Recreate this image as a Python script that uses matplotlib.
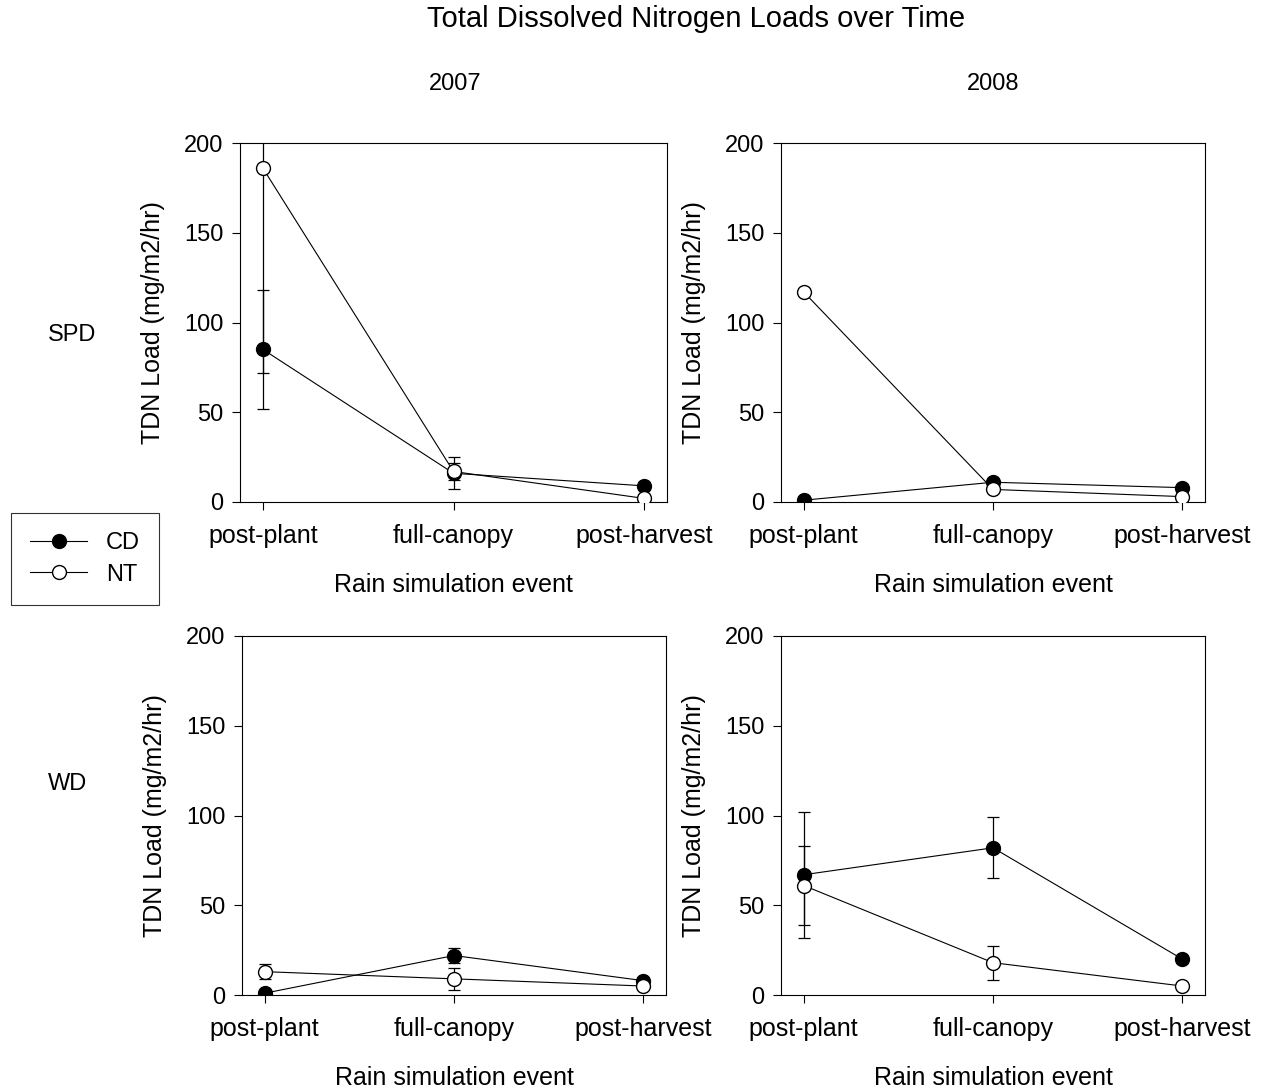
import matplotlib
matplotlib.use("Agg")
from matplotlib import pyplot as plt
from matplotlib.lines import Line2D

plt.rcParams['font.family'] = ['Liberation Sans', 'DejaVu Sans']

# rain simulation events
events = ["post-plant", "full-canopy", "post-harvest"]
years = ["2007", "2008"]
sites = ["SPD", "WD"]

# CD means / errors per panel (site, year)
cd_spd_2007 = [85, 16, 9]
cd_spd_2007_err = [33, 9, 2]
nt_spd_2007 = [186, 17, 2]
nt_spd_2007_err = [114, 5, 1]

cd_spd_2008 = [1, 11, 8]
cd_spd_2008_err = [1, 2, 1]
nt_spd_2008 = [117, 7, 3]
nt_spd_2008_err = [1, 1, 1]

cd_wd_2007 = [1, 22, 8]
cd_wd_2007_err = [1, 4, 1]
nt_wd_2007 = [13, 9, 5]
nt_wd_2007_err = [4, 6, 1]

cd_wd_2008 = [67, 82, 20]
cd_wd_2008_err = [35, 17, 2]
nt_wd_2008 = [61, 18, 5]
nt_wd_2008_err = [22, 9.5, 1]

panels = {
    ("SPD", "2007"): (cd_spd_2007, cd_spd_2007_err, nt_spd_2007, nt_spd_2007_err),
    ("SPD", "2008"): (cd_spd_2008, cd_spd_2008_err, nt_spd_2008, nt_spd_2008_err),
    ("WD", "2007"): (cd_wd_2007, cd_wd_2007_err, nt_wd_2007, nt_wd_2007_err),
    ("WD", "2008"): (cd_wd_2008, cd_wd_2008_err, nt_wd_2008, nt_wd_2008_err),
}

W, H = 1266, 1090
fig = plt.figure(figsize=(W / 100, H / 100), dpi=100)

# pixel boxes (left, top, right, bottom)
boxes = {
    ("SPD", "2007"): (240, 143, 667, 502),
    ("SPD", "2008"): (781, 143, 1205, 502),
    ("WD", "2007"): (242, 636, 666, 995),
    ("WD", "2008"): (781, 636, 1205, 995),
}

fs = 18
tfs = 17
x = list(range(len(events)))
for key, (l, t, r, b) in boxes.items():
    ax = fig.add_axes([l / W, (H - b) / H, (r - l) / W, (b - t) / H])
    cd, cd_e, nt, nt_e = panels[key]
    ax.errorbar(x, cd, yerr=cd_e, color='black', lw=0.8, elinewidth=0.9,
                capsize=4, capthick=0.9, marker='o', ms=10,
                mfc='black', mec='black', zorder=2)
    ax.errorbar(x, nt, yerr=nt_e, color='black', lw=0.8, elinewidth=0.9,
                capsize=4, capthick=0.9, marker='o', ms=10,
                mfc='white', mec='black', zorder=3)
    ax.set_xlim(-0.12, 2.12)
    ax.set_ylim(0, 200)
    ax.set_yticks([0, 50, 100, 150, 200])
    ax.set_xticks(x)
    ax.set_xticklabels(events)
    ax.tick_params(direction='out', length=6, width=0.8, labelsize=tfs, pad=6)
    ax.tick_params(axis='x', labelsize=fs, pad=10)
    for s in ax.spines.values():
        s.set_linewidth(0.8)
    ax.set_ylabel("TDN Load (mg/m2/hr)", fontsize=fs, labelpad=14)
    ax.set_xlabel("Rain simulation event", fontsize=fs, labelpad=18)

fig.text(696 / W, 1 - 19 / H, "Total Dissolved Nitrogen Loads over Time",
         ha='center', va='center', fontsize=21)
fig.text(455 / W, 1 - 84 / H, "2007", ha='center', va='center', fontsize=tfs)
fig.text(993 / W, 1 - 84 / H, "2008", ha='center', va='center', fontsize=tfs)
fig.text(72 / W, 1 - 335 / H, "SPD", ha='center', va='center', fontsize=tfs)
fig.text(68 / W, 1 - 784 / H, "WD", ha='center', va='center', fontsize=tfs)

handles = [
    Line2D([], [], color='black', lw=0.8, marker='o', ms=10, mfc='black', mec='black'),
    Line2D([], [], color='black', lw=0.8, marker='o', ms=10, mfc='white', mec='black'),
]
leg = fig.legend(handles, ["CD", "NT"], loc='center',
                 bbox_to_anchor=(85 / W, 1 - 559 / H), fontsize=17,
                 frameon=True, fancybox=False, edgecolor='black',
                 handlelength=2.4, handletextpad=0.8, borderpad=0.8,
                 borderaxespad=0, labelspacing=0.4)
leg.get_frame().set_linewidth(0.8)

fig.savefig("out.png", dpi=100)
